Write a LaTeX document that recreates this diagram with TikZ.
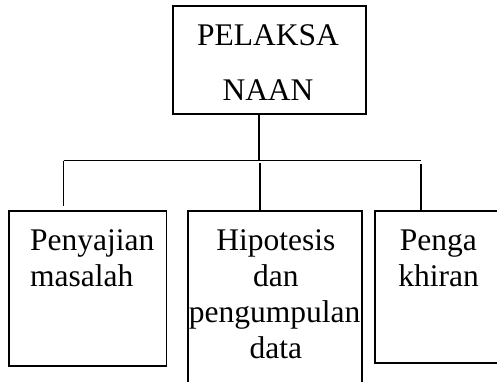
\documentclass[tikz,border=0pt]{standalone}
\usepackage{fontspec}
\setmainfont{Liberation Serif}
\begin{document}
\begin{tikzpicture}[x=1pt,y=-1pt,
  box/.style={draw=black, line width=1.7pt, inner sep=0pt, rectangle},
  txt/.style={inner sep=0pt, font=\fontsize{31.5}{36}\selectfont},
  link/.style={draw=black, line width=1.7pt}]
\useasboundingbox (0,0) rectangle (497,381);
\clip (0,0) rectangle (497,381);
% boxes
\node[box, minimum width=193pt, minimum height=108pt] (top) at (269.2,60) {};
\node[box, minimum width=157.3pt, minimum height=155pt] (left) at (87.7,288.2) {};
\node[box, minimum width=173.7pt, minimum height=200pt] (mid) at (274.8,310.7) {};
\node[box, minimum width=127pt, minimum height=152.6pt] (right) at (438.5,287) {};
% texts
\node[txt, anchor=base] (t1) at (268,45.7) {PELAKSA};
\node[txt, anchor=base] (t2) at (268,100.7) {NAAN};
\node[txt, anchor=base west] (l1) at (30,250.7) {Penyajian};
\node[txt, anchor=base west] (l2) at (30,286.7) {masalah};
\node[txt, anchor=base] (m1) at (275.8,250.7) {Hipotesis};
\node[txt, anchor=base] (m2) at (275.8,286.7) {dan};
\node[txt, anchor=base] (m3) at (274.5,322.2) {pengumpulan};
\node[txt, anchor=base] (m4) at (275.8,358.3) {data};
\node[txt, anchor=base] (r1) at (438.3,250.7) {Penga};
\node[txt, anchor=base] (r2) at (438.5,286.7) {khiran};
% connectors
\coordinate (j0) at (258.7,160.5);
\coordinate (hl) at (63.5,160.5);
\coordinate (hr) at (421.3,160.5);
\coordinate (jm) at (260,162.5);
\draw[link] (j0 |- top.south) -- (j0);
\draw[link] (hl) -- (hr);
\draw[link, shorten >=4pt] (hl) -- (hl |- left.north);
\draw[link] (jm) -- (jm |- mid.north);
\draw[link, shorten <=3.5pt] (hr) -- (hr |- right.north);
\end{tikzpicture}
\end{document}
